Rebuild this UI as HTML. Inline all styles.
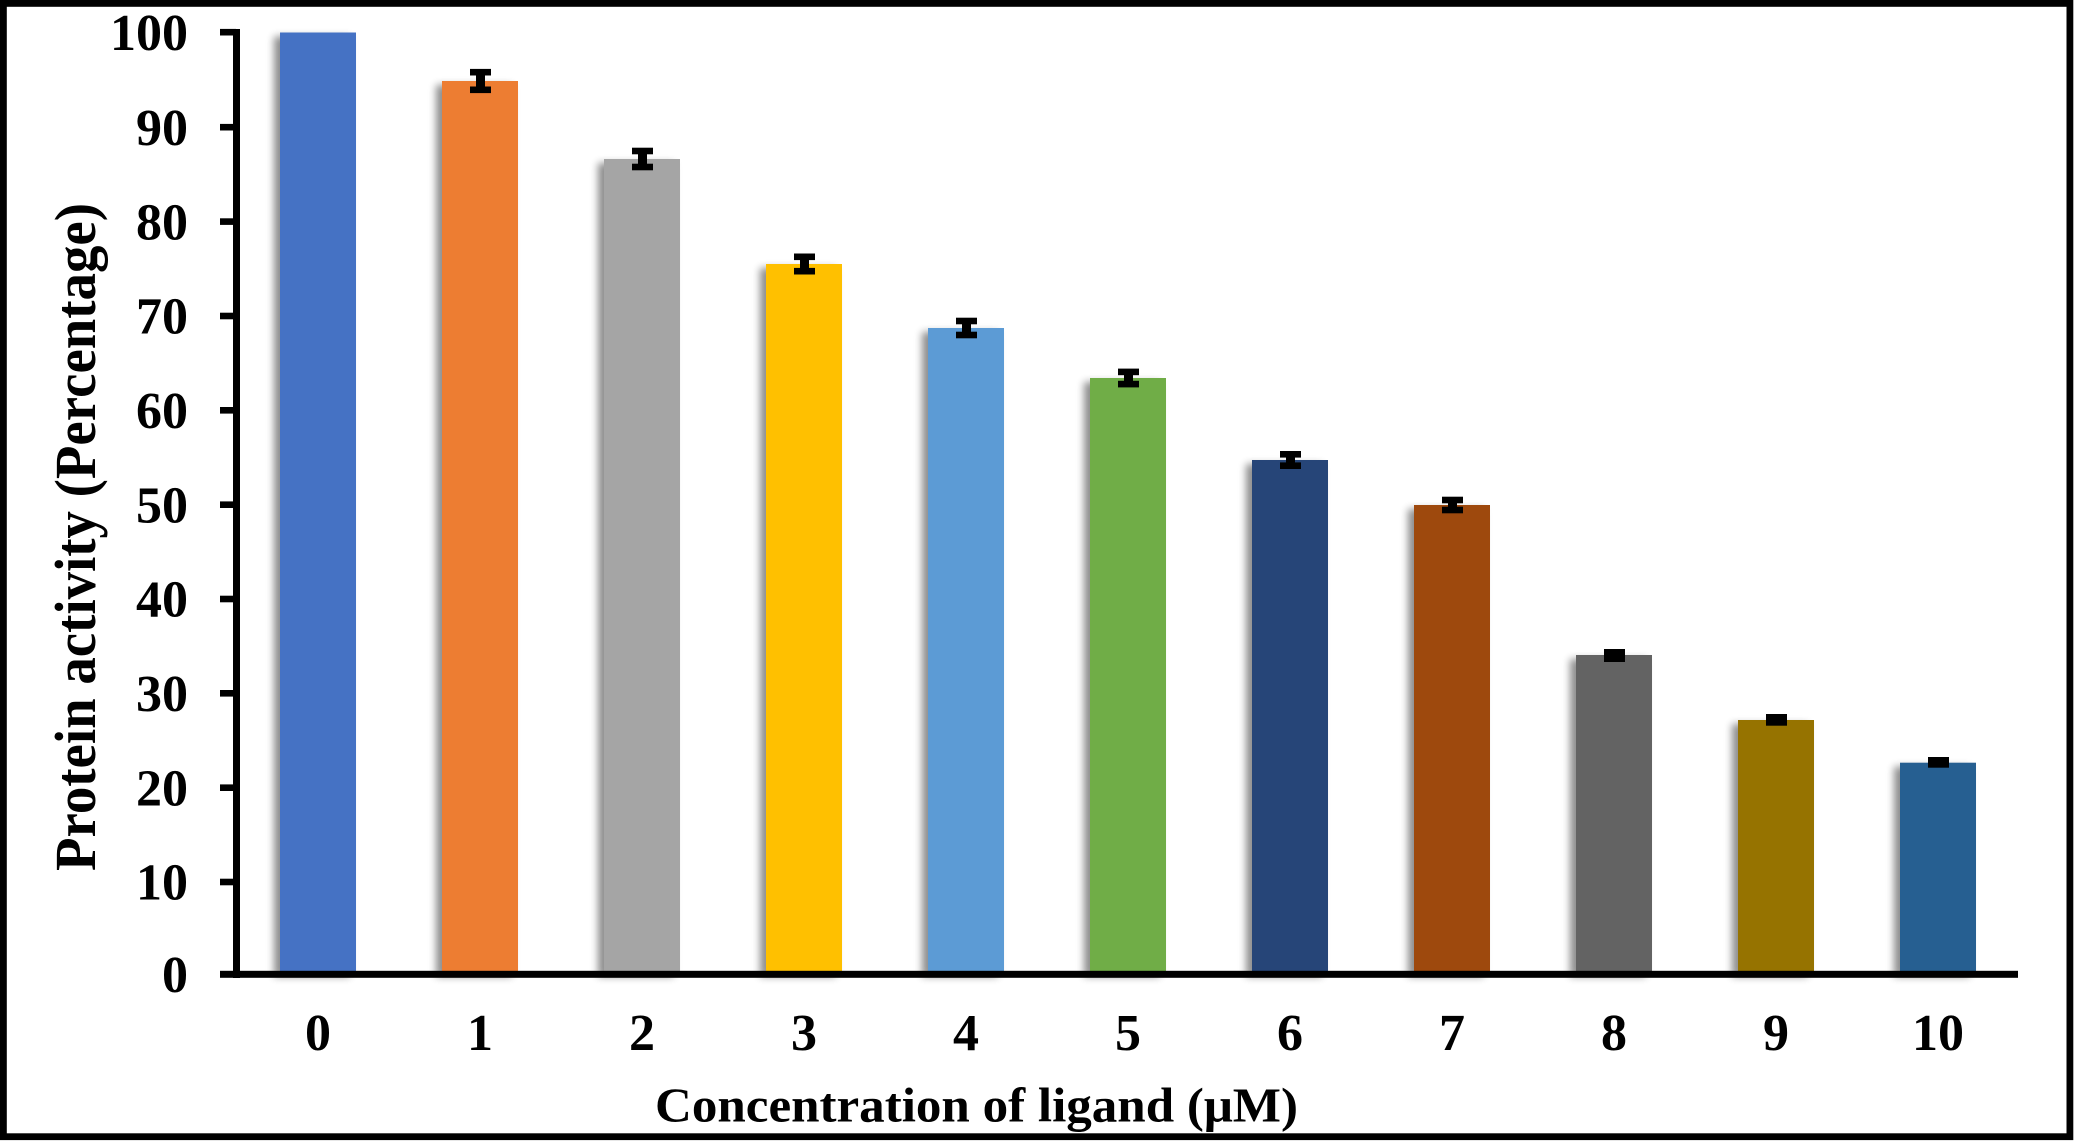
<!DOCTYPE html>
<html>
<head>
<meta charset="utf-8">
<style>
  html, body { margin: 0; padding: 0; background: #ffffff; }
  svg { display: block; }
  text { font-family: "Liberation Serif", "Times New Roman", serif; font-weight: bold; fill: #000; }
</style>
</head>
<body>
<svg width="2075" height="1141" viewBox="0 0 2075 1141" xmlns="http://www.w3.org/2000/svg">
  <defs>
    <filter id="sh" x="-30%" y="-10%" width="160%" height="120%">
      <feGaussianBlur in="SourceAlpha" stdDeviation="4"/>
      <feOffset dx="-6" dy="4" result="ob"/>
      <feComponentTransfer><feFuncA type="linear" slope="0.45"/></feComponentTransfer>
      <feMerge><feMergeNode/><feMergeNode in="SourceGraphic"/></feMerge>
    </filter>
  </defs>
  <rect x="0" y="0" width="2075" height="1141" fill="#ffffff"/>

  <!-- bars -->
  <g filter="url(#sh)">
    <rect x="280" y="32.5" width="76" height="940" fill="#4472C4"/>
    <rect x="442" y="81" width="76" height="891.5" fill="#ED7D31"/>
    <rect x="604" y="159" width="76" height="813.5" fill="#A5A5A5"/>
    <rect x="766" y="264" width="76" height="708.5" fill="#FFC000"/>
    <rect x="928" y="328" width="76" height="644.5" fill="#5B9BD5"/>
    <rect x="1090" y="378" width="76" height="594.5" fill="#70AD47"/>
    <rect x="1252" y="460" width="76" height="512.5" fill="#264478"/>
    <rect x="1414" y="505" width="76" height="467.5" fill="#9E480E"/>
    <rect x="1576" y="655" width="76" height="317.5" fill="#636363"/>
    <rect x="1738" y="720" width="76" height="252.5" fill="#967300"/>
    <rect x="1900" y="762.7" width="76" height="209.8" fill="#255E91"/>
  </g>

  <!-- error bars -->
  <g fill="#000">
    <rect x="470" y="68.9" width="21" height="6.6"/><rect x="470" y="86.5" width="21" height="6.6"/><rect x="476" y="72" width="9" height="18"/>
    <rect x="632" y="147.7" width="21" height="6.6"/><rect x="632" y="163.7" width="21" height="6.6"/><rect x="638" y="151" width="9" height="16"/>
    <rect x="794" y="253.5" width="21" height="6.6"/><rect x="794" y="267.9" width="21" height="6.6"/><rect x="800" y="256" width="9" height="15"/>
    <rect x="956" y="317.7" width="21" height="6.6"/><rect x="956" y="331.7" width="21" height="6.6"/><rect x="962" y="320" width="9" height="15"/>
    <rect x="1118" y="368.6" width="21" height="6.6"/><rect x="1118" y="380.8" width="21" height="6.6"/><rect x="1124" y="371" width="9" height="13"/>
    <rect x="1280" y="451" width="21" height="6.6"/><rect x="1280" y="462.4" width="21" height="6.6"/><rect x="1286" y="454" width="9" height="12"/>
    <rect x="1442" y="496.7" width="21" height="6.6"/><rect x="1442" y="506.7" width="21" height="6.6"/><rect x="1448" y="499" width="9" height="11"/>
    <rect x="1604" y="649" width="21" height="13"/>
    <rect x="1766" y="714" width="21" height="11.7"/>
    <rect x="1928" y="757" width="21" height="10.7"/>
  </g>

  <!-- axes -->
  <g fill="#000">
    <rect x="233" y="29" width="7" height="949"/>
    <rect x="220" y="970.8" width="1798" height="7"/>
    <rect x="220" y="28.9" width="16" height="6.6"/>
    <rect x="220" y="123.9" width="16" height="6.6"/>
    <rect x="220" y="218.3" width="16" height="6.6"/>
    <rect x="220" y="312.7" width="16" height="6.6"/>
    <rect x="220" y="407" width="16" height="6.6"/>
    <rect x="220" y="501.4" width="16" height="6.6"/>
    <rect x="220" y="595.7" width="16" height="6.6"/>
    <rect x="220" y="690" width="16" height="6.6"/>
    <rect x="220" y="784.4" width="16" height="6.6"/>
    <rect x="220" y="878.7" width="16" height="6.6"/>
  </g>

  <!-- y tick labels -->
  <g font-size="52" text-anchor="end">
    <text x="188" y="50">100</text>
    <text x="188" y="145">90</text>
    <text x="188" y="239.3">80</text>
    <text x="188" y="333.6">70</text>
    <text x="188" y="428">60</text>
    <text x="188" y="522.3">50</text>
    <text x="188" y="616.7">40</text>
    <text x="188" y="711">30</text>
    <text x="188" y="805.4">20</text>
    <text x="188" y="899.7">10</text>
    <text x="188" y="992">0</text>
  </g>

  <!-- x tick labels -->
  <g font-size="52" text-anchor="middle">
    <text x="318" y="1050">0</text>
    <text x="480" y="1050">1</text>
    <text x="642" y="1050">2</text>
    <text x="804" y="1050">3</text>
    <text x="966" y="1050">4</text>
    <text x="1128" y="1050">5</text>
    <text x="1290" y="1050">6</text>
    <text x="1452" y="1050">7</text>
    <text x="1614" y="1050">8</text>
    <text x="1776" y="1050">9</text>
    <text x="1938" y="1050">10</text>
  </g>

  <!-- axis titles -->
  <text x="655" y="1121.5" font-size="49" textLength="643" lengthAdjust="spacingAndGlyphs">Concentration of ligand (μM)</text>
  <text transform="translate(95,871) rotate(-90)" x="0" y="0" font-size="58" textLength="668" lengthAdjust="spacingAndGlyphs">Protein activity (Percentage)</text>

  <!-- outer border -->
  <rect x="3.4" y="3.4" width="2066.5" height="1133.3" fill="none" stroke="#000" stroke-width="6.8"/>
</svg>
</body>
</html>
